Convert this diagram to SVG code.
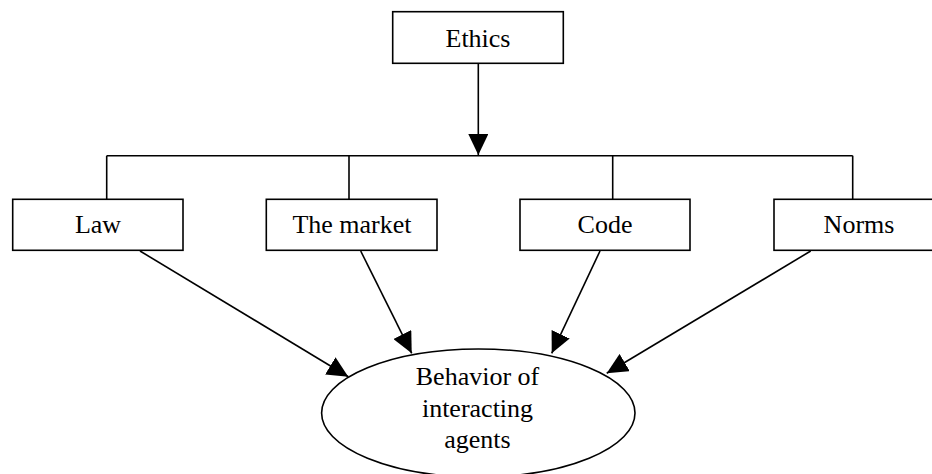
<svg xmlns="http://www.w3.org/2000/svg" width="932" height="474" viewBox="0 0 932 474">
  <style>
    .box { fill: #ffffff; stroke: #000000; stroke-width: 1.6; }
    .label { font-family: "Liberation Serif", "Times New Roman", serif; font-size: 26px; fill: #000000; text-anchor: middle; }
    .wire { fill: none; stroke: #000000; stroke-width: 1.6; }
    .arrow { fill: none; stroke: #000000; stroke-width: 1.6; marker-end: url(#head); }
  </style>
  <defs>
    <marker id="head" viewBox="0 0 21 20" refX="21" refY="10" markerWidth="21" markerHeight="20" markerUnits="userSpaceOnUse" orient="auto">
      <path d="M0,0 L21,10 L0,20 z" fill="#000000"/>
    </marker>
  </defs>
  <rect width="932" height="474" fill="#ffffff"/>

  <!-- connectors -->
  <g id="connectors">
    <line class="arrow" x1="478.3" y1="63.3" x2="478.3" y2="155"/>
    <line class="wire" x1="106.7" y1="155.7" x2="852.7" y2="155.7"/>
    <line class="wire" x1="106.7" y1="155.7" x2="106.7" y2="199.3"/>
    <line class="wire" x1="349" y1="155.7" x2="349" y2="199.3"/>
    <line class="wire" x1="612.7" y1="155.7" x2="612.7" y2="199.3"/>
    <line class="wire" x1="852.7" y1="155.7" x2="852.7" y2="199.3"/>
    <line class="arrow" x1="140" y1="251" x2="348.3" y2="376.7"/>
    <line class="arrow" x1="360.7" y1="251" x2="411.7" y2="353.3"/>
    <line class="arrow" x1="600" y1="251" x2="551.7" y2="353.3"/>
    <line class="arrow" x1="810.7" y1="251" x2="606.7" y2="373.3"/>
  </g>

  <!-- nodes -->
  <g id="ethics">
    <rect class="box" x="392.7" y="11.7" width="170.6" height="51.6"/>
    <text class="label" x="478" y="46.7">Ethics</text>
  </g>
  <g id="law">
    <rect class="box" x="12.7" y="199.3" width="170.3" height="51"/>
    <text class="label" x="98" y="233.3">Law</text>
  </g>
  <g id="market">
    <rect class="box" x="266.3" y="199.3" width="170.7" height="51"/>
    <text class="label" x="352" y="233.3">The market</text>
  </g>
  <g id="code">
    <rect class="box" x="520" y="199.3" width="170" height="51"/>
    <text class="label" x="605" y="233.3">Code</text>
  </g>
  <g id="norms">
    <rect class="box" x="774" y="199.3" width="170" height="51"/>
    <text class="label" x="859" y="233.3">Norms</text>
  </g>
  <g id="behavior">
    <ellipse class="box" cx="478.3" cy="413" rx="156.7" ry="64"/>
    <text class="label" x="477.5" y="385">Behavior of</text>
    <text class="label" x="477.5" y="416.7">interacting</text>
    <text class="label" x="477.5" y="448">agents</text>
  </g>
</svg>
